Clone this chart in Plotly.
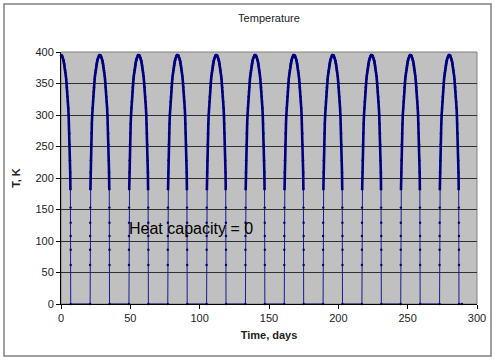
import plotly.graph_objects as go

# Arch profile: offset from local noon (days) -> temperature (K)
profile_offset = [0, 0.25, 0.5, 0.75, 1, 1.25, 1.5, 1.75, 2, 2.25, 2.5, 2.75, 3, 3.25, 3.5,
                  3.75, 4, 4.25, 4.5, 4.75, 5, 5.25, 5.5, 5.75, 6, 6.25, 6.5, 6.65, 6.8,
                  6.9, 6.95, 6.98, 6.99, 6.997, 7.0]
profile_temp = [395, 395, 394, 394, 392, 391, 389, 387, 385, 382, 379, 375, 371, 367, 362,
                357, 351, 344, 337, 329, 321, 311, 300, 286, 271, 253, 228, 209, 182,
                153, 129, 108, 86, 62, 0]

# Local noon (peak) days
noon_days = [0, 28, 56, 84, 112, 140, 168, 196, 224, 252, 280]
end_day = 289.2

x_ticks = [0, 50, 100, 150, 200, 250, 300]
y_ticks = [0, 50, 100, 150, 200, 250, 300, 350, 400]

t, T = [], []
for n in noon_days:
    for d, v in zip(reversed(profile_offset), reversed(profile_temp)):
        if n - d >= 0 and d > 0:
            t.append(n - d); T.append(v)
    for d, v in zip(profile_offset, profile_temp):
        if n + d >= 0 and not (d == 0 and t and t[-1] == n):
            t.append(n + d); T.append(v)
t.append(end_day); T.append(0)

# upper (thick-looking) part of each arch, separated by gaps
tt, TT = [], []
prev_hi = False
for a, b in zip(t, T):
    hi = b >= 180
    if hi:
        tt.append(a); TT.append(b)
    elif prev_hi:
        tt.append(None); TT.append(None)
    prev_hi = hi

fig = go.Figure()
fig.add_trace(go.Scatter(
    x=t, y=T, mode="lines+markers",
    line=dict(color="#1a1a8c", width=1),
    marker=dict(color="#000080", size=2.4, line=dict(width=0)),
    hoverinfo="skip", showlegend=False, cliponaxis=False,
))
fig.add_trace(go.Scatter(
    x=tt, y=TT, mode="lines", connectgaps=False,
    line=dict(color="#000080", width=2.6),
    hoverinfo="skip", showlegend=False,
))

fig.add_annotation(x=47.5, y=120, xref="x", yref="y", text="Heat capacity = 0",
                   showarrow=False, xanchor="left", yanchor="middle",
                   font=dict(family="Liberation Sans, Arial", size=16, color="black"))

fig.add_shape(type="rect", xref="paper", yref="paper",
              x0=-57/416, x1=(491-61)/416, y0=(304-356)/252, y1=(304-4)/252,
              line=dict(color="#808080", width=1.5), fillcolor="rgba(0,0,0,0)", layer="below")

fig.update_layout(
    width=499, height=361,
    margin=dict(l=61, r=22, t=52, b=57, autoexpand=False),
    paper_bgcolor="white", plot_bgcolor="#C0C0C0",
    font=dict(family="Liberation Sans, Arial", size=11, color="#222"),
    title=dict(text="Temperature", x=269/499, xanchor="center", y=1-18/361, yanchor="middle",
               font=dict(size=11, color="#222")),
    xaxis=dict(range=[0, 300], tickvals=x_ticks, ticks="outside", ticklen=4,
               tickcolor="black", showline=True, linecolor="black", linewidth=1,
               showgrid=False, zeroline=False, mirror=False, automargin=False,
               title=dict(text="<b>Time, days</b>", standoff=8, font=dict(size=11)),
               tickfont=dict(size=11)),
    yaxis=dict(range=[0, 400], tickvals=y_ticks, ticks="outside", ticklen=4,
               tickcolor="black", showline=True, linecolor="black", linewidth=1,
               showgrid=True, gridcolor="#303030", gridwidth=1, zeroline=False,
               automargin=False,
               title=dict(text="<b>T, K</b>", standoff=12, font=dict(size=11)),
               tickfont=dict(size=11)),
)
# plot-area border (top/right) in grey
fig.add_shape(type="rect", xref="paper", yref="paper", x0=0, x1=1, y0=0, y1=1,
              line=dict(color="#808080", width=1), layer="below")

fig.write_html("out.html", config={"displayModeBar": False},
               post_script="document.body.style.margin='0';document.body.style.overflow='hidden';")
